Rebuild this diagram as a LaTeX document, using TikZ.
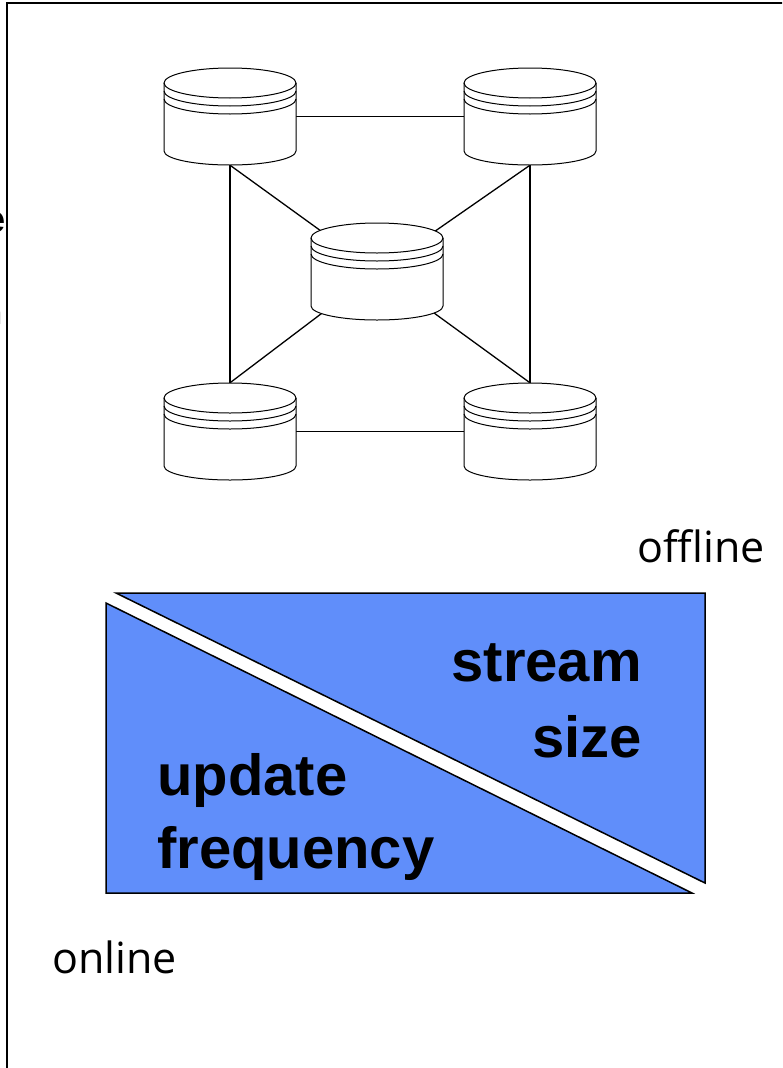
\documentclass[tikz,border=0pt]{standalone}
\usepackage{fontspec}
\setmainfont{Open Sans}[Ligatures=NoCommon]
\newfontfamily\hvfont{Liberation Sans}
\usetikzlibrary{calc}
\definecolor{boxblue}{RGB}{96,142,250}
\tikzset{
  db/.style={rectangle, inner sep=0pt, minimum width=132pt, minimum height=97pt},
  link/.style={draw=black, line width=1.3pt},
  cyl/.style={draw=black, line width=1pt},
  half/.style={draw=black, fill=boxblue, line width=1.5pt},
  lbl/.style={inner sep=0pt, font=\fontsize{43}{50}\selectfont},
  big/.style={inner sep=0pt, font=\hvfont\bfseries\fontsize{58}{76}\selectfont},
}
\begin{document}
\begin{tikzpicture}[x=1pt,y=-1pt]
\useasboundingbox (0,0) rectangle (782,1068);
\clip (0,0) rectangle (782,1068);
% frame (only top and left edges inside the picture)
\draw[line width=2pt] (6.5,1100) -- (6.5,3) -- (820,3);
% clipped remnants at the left edge
\node[inner sep=0pt, anchor=base east, font=\hvfont\bfseries\fontsize{38}{40}\selectfont] (cute) at (5.5,232) {e};
\node[inner sep=0pt, anchor=base east, font=\fontsize{33}{36}\selectfont] (cutn) at (3,324) {n};
% database nodes
\node[db] (tl) at (230,116.5) {};
\node[db] (tr) at (530,116.5) {};
\node[db] (mid) at (377,271.5) {};
\node[db] (bl) at (230,431.5) {};
\node[db] (br) at (530,431.5) {};
% connectors
\draw[link] (tl) -- (tr);
\draw[link] (bl) -- (br);
\draw[link] (tl.south) -- (bl.north);
\draw[link] (tr.south) -- (br.north);
\draw[link] (tl.south) -- (mid.center);
\draw[link] (tr.south) -- (mid.center);
\draw[link] (bl.north) -- (mid.center);
\draw[link] (br.north) -- (mid.center);
% cylinders
\foreach \n in {tl,tr,mid,bl,br}{
  \begin{scope}[shift={(\n.center)}]
    \fill[white] (-66,-33.5) -- (-66,34.5)
      arc[start angle=180, end angle=360, x radius=66pt, y radius=14pt]
      -- (66,-33.5)
      arc[start angle=0, end angle=180, x radius=66pt, y radius=15pt] -- cycle;
    \draw[cyl] (-66,-33.5) -- (-66,34.5)
      arc[start angle=180, end angle=360, x radius=66pt, y radius=14pt]
      -- (66,-33.5);
    \draw[cyl] (0,-33.5) ellipse [x radius=66pt, y radius=15pt];
    \draw[cyl] (-66,-25.5) arc[start angle=180, end angle=360, x radius=66pt, y radius=15pt];
    \draw[cyl] (-66,-17.5) arc[start angle=180, end angle=360, x radius=66pt, y radius=15pt];
  \end{scope}
}
% labels
\node[lbl, anchor=base east] (off) at (765,562) {offline};
\node[lbl, anchor=base west] (on) at (52,973) {online};
% split box
\filldraw[half] (116,593) -- (705,593) -- (705,883) -- cycle;
\filldraw[half] (106,603) -- (692,893) -- (106,893) -- cycle;
\node[big, anchor=base east, align=right] (ss) at (642,757) {stream\\size};
\node[big, anchor=base west, align=left, font=\hvfont\bfseries\fontsize{58}{73}\selectfont] (uf) at (157,868) {update\\frequency};
\end{tikzpicture}
\end{document}
